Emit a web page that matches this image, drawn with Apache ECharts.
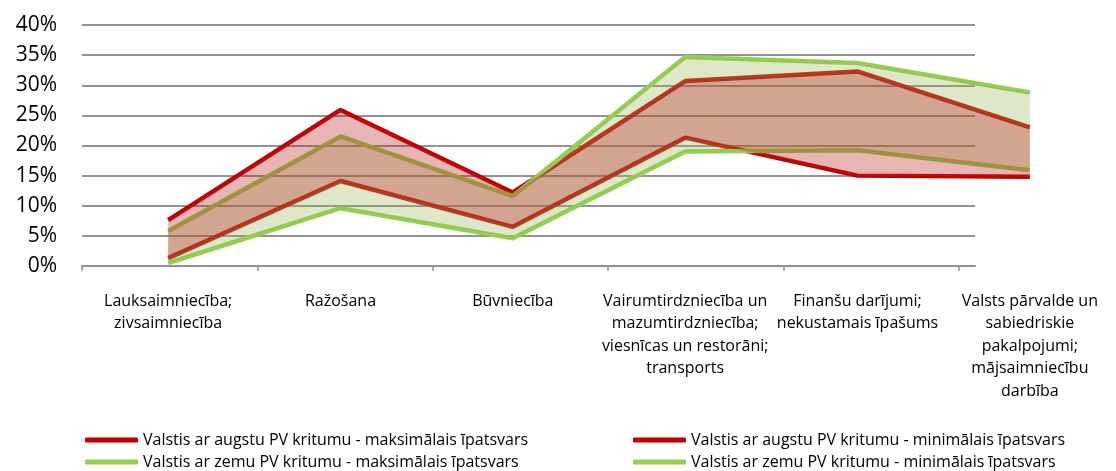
<!DOCTYPE html>
<html>
<head>
<meta charset="utf-8">
<script src="https://cdn.jsdelivr.net/npm/echarts@6/dist/echarts.min.js"></script>
<style>
    html, body { margin: 0; padding: 0; background: #fff; }
    #chart { width: 1116px; height: 471px; }
</style>
</head>
<body>
<div id="chart"></div>
<script>
// categories
const categories = [
    'Lauksaimniecība;\nzivsaimniecība',
    'Ražošana',
    'Būvniecība',
    'Vairumtirdzniecība un\nmazumtirdzniecība;\nviesnīcas un restorāni;\ntransports',
    'Finanšu darījumi;\nnekustamais īpašums',
    'Valsts pārvalde un\nsabiedriskie\npakalpojumi;\nmājsaimniecību\ndarbība'
];

// series names
const nameRedMax = 'Valstis ar augstu PV kritumu - maksimālais īpatsvars';
const nameRedMin = 'Valstis ar augstu PV kritumu - minimālais īpatsvars';
const nameGreenMax = 'Valstis ar zemu PV kritumu - maksimālais īpatsvars';
const nameGreenMin = 'Valstis ar zemu PV kritumu - minimālais īpatsvars';

// values, %
const redMax = [7.6, 25.9, 12.2, 30.7, 32.3, 23.0];
const redMin = [1.3, 14.1, 6.5, 21.3, 15.0, 14.8];
const greenMax = [5.8, 21.5, 11.6, 34.7, 33.7, 28.8];
const greenMin = [0.5, 9.6, 4.6, 19.0, 19.2, 15.9];

// y ticks
const yTicks = [0, 5, 10, 15, 20, 25, 30, 35, 40];

const font = '"Open Sans", sans-serif';
const gridColor = '#939393';

// band height for stacked area
const diff = (hi, lo) => hi.map((v, i) => +(v - lo[i]).toFixed(2));

const lineSeries = (name, data, color) => ({
    name: name,
    type: 'line',
    xAxisIndex: 1,
    yAxisIndex: 1,
    data: data,
    symbol: 'none',
    z: 2,
    itemStyle: { color: color },
    lineStyle: { color: color, width: 4.5 }
});

const bandSeries = (stack, lo, hi, fill) => [
    {
        type: 'line', xAxisIndex: 1, yAxisIndex: 1, stack: stack,
        data: lo, symbol: 'none', silent: true, z: 3,
        lineStyle: { opacity: 0 }
    },
    {
        type: 'line', xAxisIndex: 1, yAxisIndex: 1, stack: stack,
        data: diff(hi, lo), symbol: 'none', silent: true, z: 3,
        lineStyle: { opacity: 0 },
        areaStyle: { color: fill, opacity: 1 }
    }
];

const legendBase = {
    orient: 'vertical',
    top: 431,
    height: 60,
    padding: 0,
    itemWidth: 53,
    itemHeight: 5,
    itemGap: 4,
    icon: 'roundRect',
    textStyle: { fontFamily: font, fontSize: 16, color: '#000', lineHeight: 18 }
};

const chart = echarts.init(document.getElementById('chart'));

chart.setOption({
    animation: false,
    backgroundColor: '#fff',
    grid: [
        // gridlines + axis (clipped short like the source)
        { left: 82, top: 25, width: 893, bottom: 205 },
        // data grid spans 6 full categories
        { left: 82, top: 25, width: 1052, bottom: 205 }
    ],
    xAxis: [
        {
            type: 'value', gridIndex: 0, min: 0, max: 893 / (1052 / 6),
            axisLine: { show: true, lineStyle: { color: gridColor, width: 2 } },
            axisTick: { show: true, customValues: [0, 1, 2, 3, 4, 5], length: 5, lineStyle: { color: gridColor, width: 1.5 } },
            axisLabel: { show: false },
            splitLine: { show: false }
        },
        {
            type: 'category', gridIndex: 1, data: categories, boundaryGap: true,
            axisLine: { show: false },
            axisTick: { show: false },
            axisLabel: {
                interval: 0, margin: 24,
                fontFamily: font, fontSize: 16, lineHeight: 22.5, color: '#000', align: 'center'
            }
        }
    ],
    yAxis: [
        {
            type: 'value', gridIndex: 0, min: yTicks[0], max: yTicks[yTicks.length - 1], interval: 5,
            axisLine: { show: false },
            axisTick: { show: false },
            axisLabel: {
                margin: 25, fontFamily: font, fontSize: 21, color: '#000',
                formatter: v => v + '%'
            },
            splitLine: { lineStyle: { color: gridColor, width: 2 } }
        },
        {
            type: 'value', gridIndex: 1, min: 0, max: 40, show: false
        }
    ],
    legend: [
        Object.assign({}, legendBase, { left: 85, data: [nameRedMax, nameGreenMax] }),
        Object.assign({}, legendBase, { left: 633, data: [nameRedMin, nameGreenMin] })
    ],
    series: [
        lineSeries(nameRedMax, redMax, '#c00000'),
        lineSeries(nameRedMin, redMin, '#c00000'),
        lineSeries(nameGreenMax, greenMax, '#92d050'),
        lineSeries(nameGreenMin, greenMin, '#92d050'),
        ...bandSeries('g', greenMin, greenMax, 'rgba(155,185,90,0.33)'),
        ...bandSeries('r', redMin, redMax, 'rgba(185,30,30,0.33)')
    ]
});
</script>
</body>
</html>
